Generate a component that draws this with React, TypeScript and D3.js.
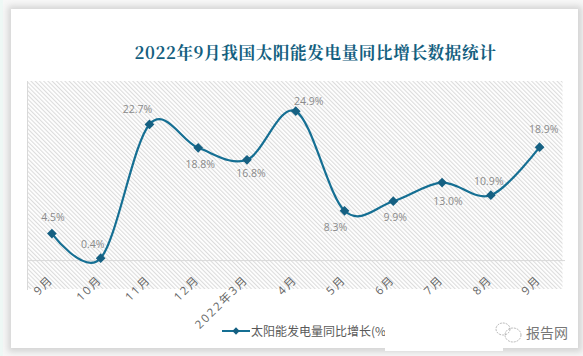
import React from "react";
import * as d3 from "d3";

const categories = ["9月", "10月", "11月", "12月", "2022年3月", "4月", "5月", "6月", "7月", "8月", "9月"];
const values = [4.5, 0.4, 22.7, 18.8, 16.8, 24.9, 8.3, 9.9, 13.0, 10.9, 18.9];
const labelOffsets: [number, number][] = [[1, -13], [-8, -10], [-12, -11.5], [2, 20], [4, 17], [13, -6], [-9, 20], [2, 20], [6, 22], [-2, -10], [4, -14]];
const title = "2022年9月我国太阳能发电量同比增长数据统计";
const legendLabel = "太阳能发电量同比增长(%";

export default function App() {
  const x = d3.scaleBand<number>().domain(categories.map((_, i) => i)).range([27.5, 564]);
  const y = d3.scaleLinear().domain([-5, 30]).range([290.6, 80.6]);
  const cx = (i: number) => x(i)! + x.bandwidth() / 2;
  const line = d3.line<number>().x((_, i) => cx(i)).y((d) => y(d)).curve(d3.curveCardinal.tension(0));
  const diamond = d3.symbol().type(d3.symbolDiamond2).size(60)()!;
  return (
    <svg width={583} height={356} style={{ position: "fixed", left: 0, top: 0, display: "block" }}>
      <defs>
        <pattern id="hatch" width="3" height="3" patternUnits="userSpaceOnUse" patternTransform="rotate(-45)">
          <rect width="3" height="3" fill="#fff" />
          <rect width="1.1" height="3" fill="#dcdcdc" />
        </pattern>
        <filter id="soft" x="-5%" y="-5%" width="110%" height="110%">
          <feGaussianBlur stdDeviation="3" />
        </filter>
      </defs>
      <rect width={583} height={356} fill="#f7f7f7" />
      <rect x={0} y={0} width={3} height={356} fill="#eef8f5" />
      <rect x={8} y={6} width={574} height={346} fill="#d4d4d4" filter="url(#soft)" />
      <rect x={11} y={9} width={567} height={339} fill="#fff" />
      <text x={315.5} y={59} textAnchor="middle" fontFamily="'Noto Serif CJK SC','Noto Sans CJK SC',serif" fontWeight={700} fontSize={16.6} letterSpacing={0.6} fill="#145f80">{title}</text>
      <rect x={27.5} y={81} width={535} height={208} fill="url(#hatch)" />
      <line x1={27.5} x2={27.5} y1={81} y2={290} stroke="#d9d9d9" />
      <line x1={27.5} x2={565} y1={y(0)} y2={y(0)} stroke="#d9d9d9" />
      {categories.map((c, i) => (
        <text key={i} transform={`translate(${cx(i)},${278}) rotate(-45)`} textAnchor="end" dominantBaseline="middle" fontFamily="'Open Sans','Noto Sans CJK SC',sans-serif" fontSize={11.5} letterSpacing={2} fill="#666">{c}</text>
      ))}
      <path d={line(values)!} fill="none" stroke="#156f93" strokeWidth={2.2} />
      {values.map((v, i) => (
        <path key={i} d={diamond} transform={`translate(${cx(i)},${y(v)})`} fill="#156082" />
      ))}
      {values.map((v, i) => (
        <text key={i} x={cx(i) + labelOffsets[i][0]} y={y(v) + labelOffsets[i][1]} textAnchor="middle" fontFamily="'Open Sans','Noto Sans',sans-serif" fontSize={10.5} fill="#8a8a8a">{v.toFixed(1)}%</text>
      ))}
      <line x1={222} x2={250} y1={331} y2={331} stroke="#156f93" strokeWidth={2} />
      <path d={diamond} transform="translate(236,331) scale(0.75)" fill="#156082" />
      <text x={251} y={336} fontFamily="'Noto Sans CJK SC',sans-serif" fontSize={12} fill="#595959">{legendLabel}</text>
      <rect x={385} y={311} width={118} height={40} fill="#fff" />
      <g fill="none" stroke="#a5a5a5" strokeWidth={0.8} strokeDasharray="2 1">
        <ellipse cx={503} cy={329} rx={7} ry={6} />
        <ellipse cx={513} cy={335} rx={8} ry={7} />
      </g>
      <text x={526} y={338} fontFamily="'Noto Sans CJK SC',sans-serif" fontSize={14} fill="#777">报告网</text>
    </svg>
  );
}
